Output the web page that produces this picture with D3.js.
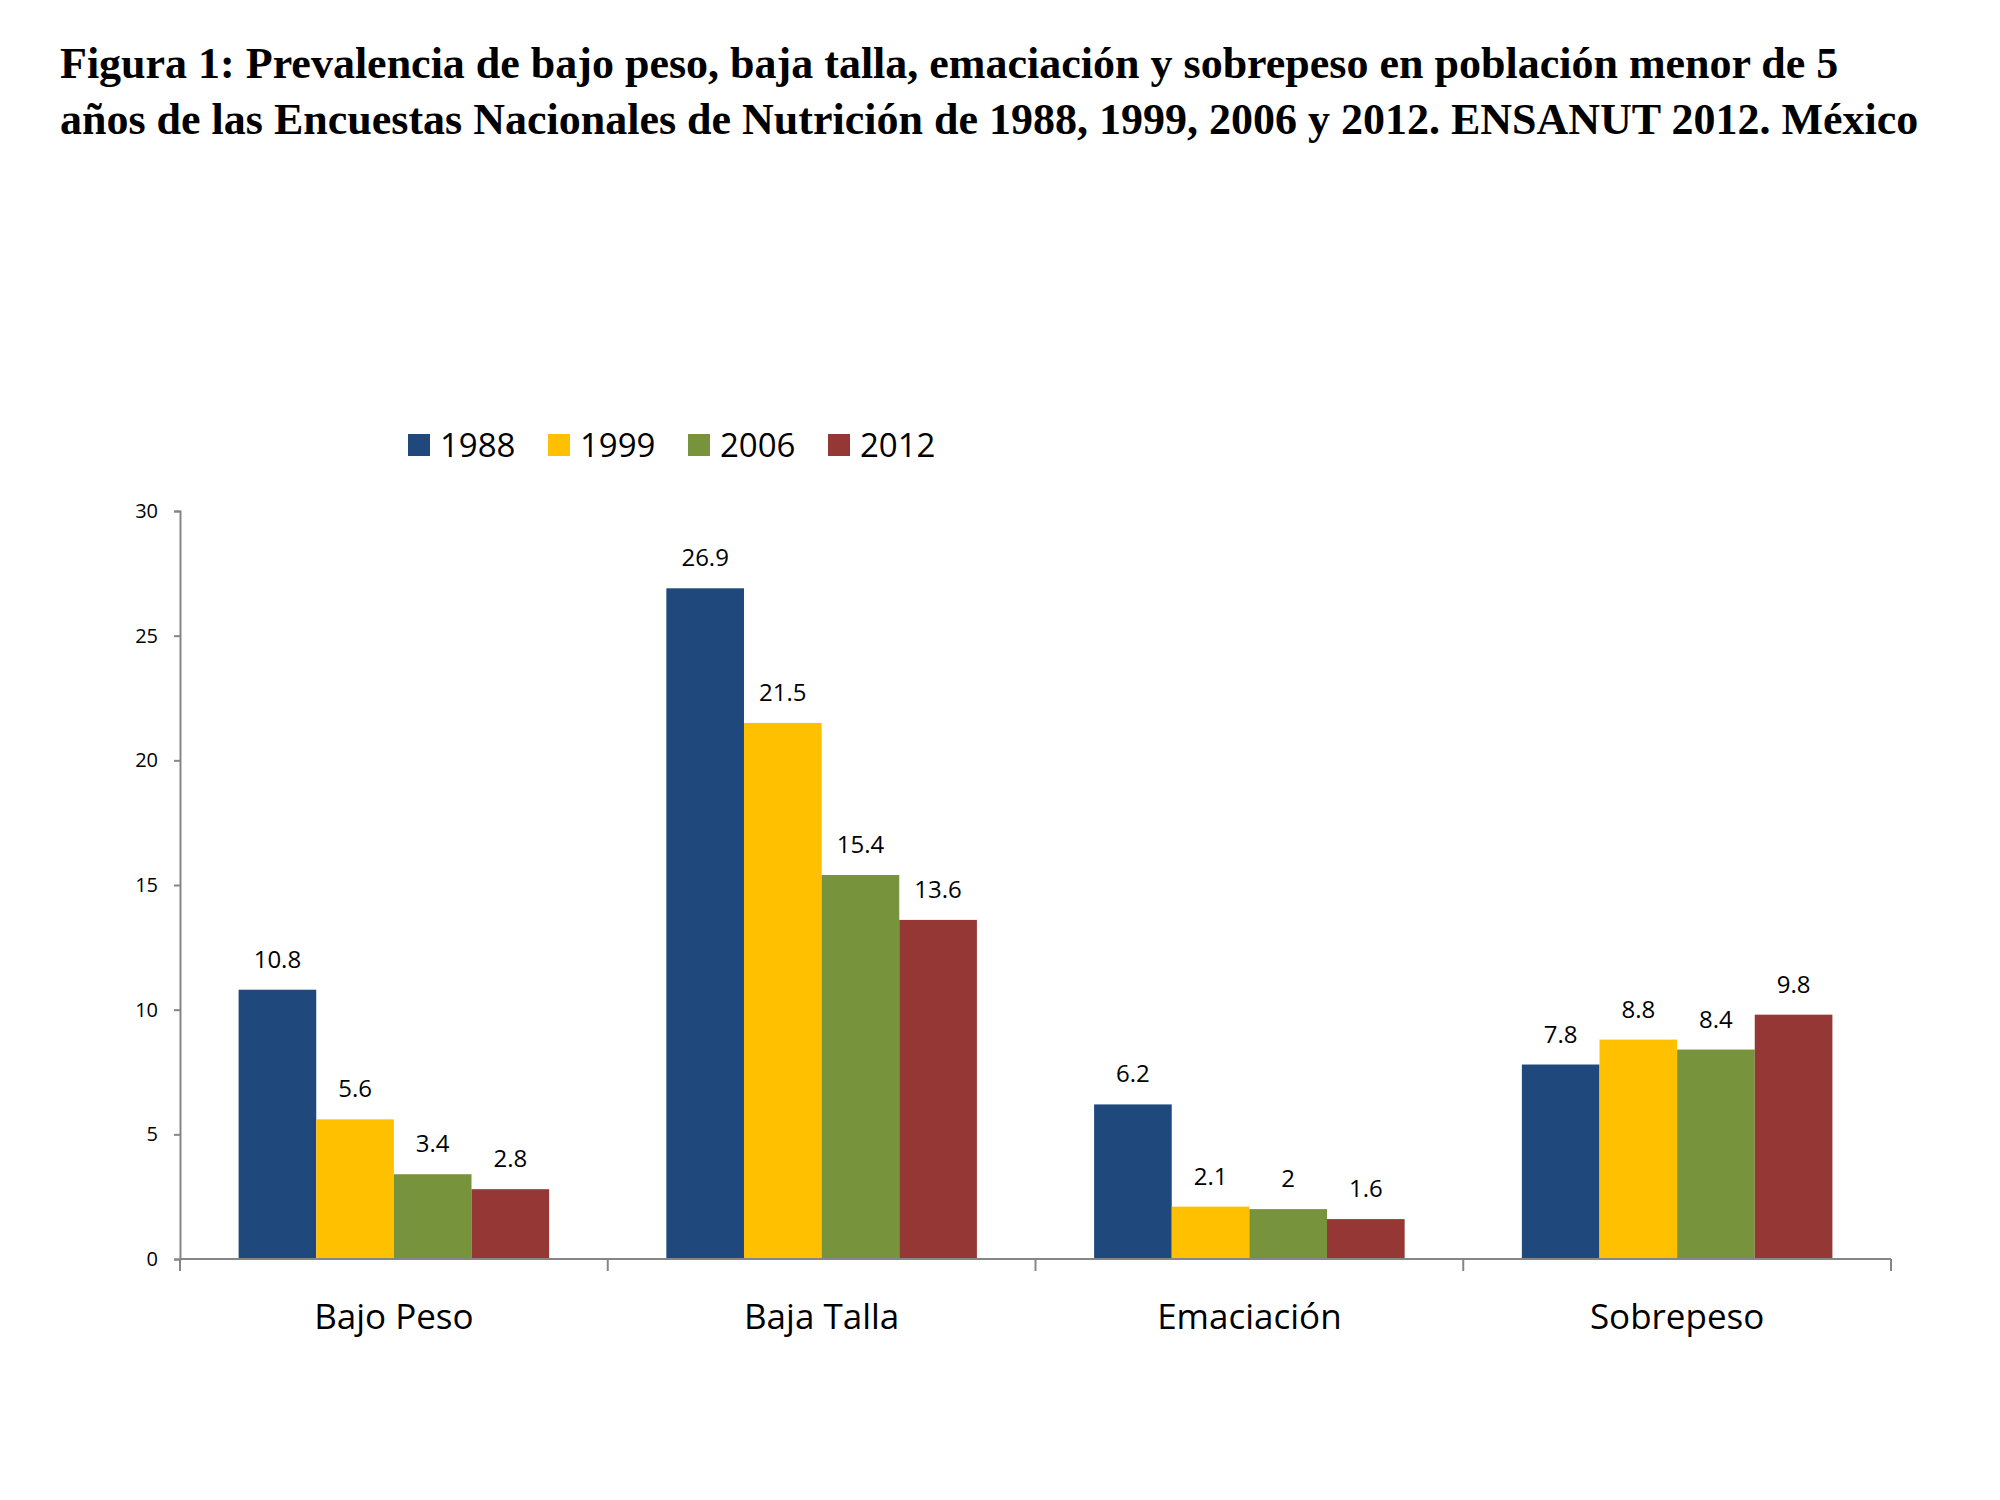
<!DOCTYPE html>
<html><head><meta charset="utf-8">
<script src="https://cdn.jsdelivr.net/npm/d3@7"></script>
<style>body{margin:0;background:#fff}</style>
</head><body>
<svg id="c" width="2000" height="1500"></svg>
<script>
var categories = ['Bajo Peso', 'Baja Talla', 'Emaciación', 'Sobrepeso'];
var years = ['1988', '1999', '2006', '2012'];
var v1988 = [10.8, 26.9, 6.2, 7.8];
var v1999 = [5.6, 21.5, 2.1, 8.8];
var v2006 = [3.4, 15.4, 2, 8.4];
var v2012 = [2.8, 13.6, 1.6, 9.8];
var yTicks = [0, 5, 10, 15, 20, 25, 30];
var colors = ['#1F497D', '#FFC000', '#77933C', '#953735'];

(function () {
var series = [v1988, v1999, v2006, v2012];
var svg = d3.select('#c');
var font = "'Open Sans', 'Liberation Sans', sans-serif";

svg.append('text').attr('x', 60).attr('y', 78)
    .attr('font-family', "'Liberation Serif', serif").attr('font-weight', 'bold').attr('font-size', 44)
    .text('Figura 1: Prevalencia de bajo peso, baja talla, emaciación y sobrepeso en población menor de 5');
svg.append('text').attr('x', 60).attr('y', 134)
    .attr('font-family', "'Liberation Serif', serif").attr('font-weight', 'bold').attr('font-size', 44)
    .text('años de las Encuestas Nacionales de Nutrición de 1988, 1999, 2006 y 2012. ENSANUT 2012. México');

var mLeft = 180, mRight = 1891, mTop = 511, mBottom = 1259;
var x = d3.scaleBand().domain(categories).range([mLeft, mRight]).padding(0);
var xi = d3.scaleBand().domain(years).range([x.bandwidth() * 0.137, x.bandwidth() * 0.863]).padding(0);
var y = d3.scaleLinear().domain([0, 30]).range([mBottom, mTop]);

// y axis
var ya = svg.append('g').attr('transform', 'translate(' + mLeft + ',0)')
    .call(d3.axisLeft(y).tickValues(yTicks).tickSize(6).tickPadding(16));
ya.select('.domain').attr('stroke', '#868686').attr('stroke-width', 2);
ya.selectAll('line').attr('stroke', '#868686').attr('stroke-width', 2);
ya.selectAll('text').attr('font-family', font).attr('font-size', 20).attr('fill', '#000');

// bars
var g = svg.append('g').selectAll('g').data(categories).enter().append('g')
    .attr('transform', function (d) { return 'translate(' + x(d) + ',0)'; });
g.selectAll('rect').data(function (d, i) {
    return years.map(function (yr, j) { return {yr: yr, v: series[j][i], c: colors[j]}; });
}).enter().append('rect')
    .attr('x', function (d) { return xi(d.yr); })
    .attr('width', xi.bandwidth())
    .attr('y', function (d) { return y(d.v); })
    .attr('height', function (d) { return mBottom - y(d.v); })
    .attr('fill', function (d) { return d.c; });
g.selectAll('text').data(function (d, i) {
    return years.map(function (yr, j) { return {yr: yr, v: series[j][i]}; });
}).enter().append('text')
    .attr('x', function (d) { return xi(d.yr) + xi.bandwidth() / 2; })
    .attr('y', function (d) { return y(d.v) - 22; })
    .attr('text-anchor', 'middle').attr('font-family', font).attr('font-size', 24)
    .text(function (d) { return d.v; });

// x axis
var xa = svg.append('g').attr('transform', 'translate(0,' + mBottom + ')');
xa.append('line').attr('x1', mLeft).attr('x2', mRight).attr('stroke', '#868686').attr('stroke-width', 2);
xa.selectAll('.tk').data(categories.concat([null])).enter().append('line')
    .attr('x1', function (d, i) { return mLeft + i * x.bandwidth(); })
    .attr('x2', function (d, i) { return mLeft + i * x.bandwidth(); })
    .attr('y1', 0).attr('y2', 12).attr('stroke', '#868686').attr('stroke-width', 2);
xa.selectAll('text').data(categories).enter().append('text')
    .attr('x', function (d) { return x(d) + x.bandwidth() / 2; })
    .attr('y', 70).attr('text-anchor', 'middle').attr('font-family', font).attr('font-size', 35)
    .text(function (d) { return d; });

// legend
var lg = svg.append('g').selectAll('g').data(years).enter().append('g')
    .attr('transform', function (d, i) { return 'translate(' + (408 + i * 140) + ',445)'; });
lg.append('rect').attr('x', 0).attr('y', -11).attr('width', 22).attr('height', 22)
    .attr('fill', function (d, i) { return colors[i]; });
lg.append('text').attr('x', 32).attr('y', 12).attr('font-family', font).attr('font-size', 33)
    .text(function (d) { return d; });
})();
</script>
</body></html>
